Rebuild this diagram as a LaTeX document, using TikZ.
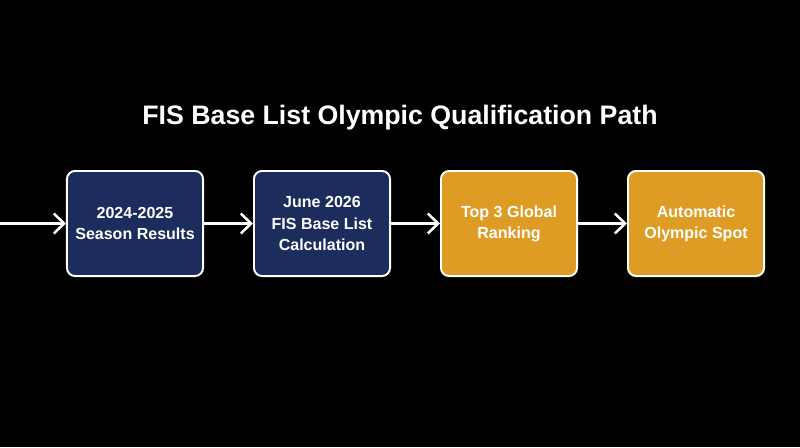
\documentclass[tikz,border=0pt]{standalone}
\usepackage{fontspec}
\setmainfont{Liberation Sans}
\usetikzlibrary{arrows.meta}

\definecolor{navybox}{RGB}{28,44,92}
\definecolor{goldbox}{RGB}{222,156,36}

\begin{document}
\begin{tikzpicture}[x=0.025cm,y=-0.025cm,
    stage/.style={draw=white,line width=1.4pt,rounded corners=0.2cm,minimum width=3.4cm,minimum height=2.625cm,
      inner sep=0pt,align=center,text=white,font=\fontsize{11.4}{15}\selectfont\bfseries},
    flow/.style={draw=white,line width=1.8pt,-{Straight Barb[length=2.6mm,width=5mm,line width=1.8pt]}}]

    \fill[black] (0,0) rectangle (800,447);
    \useasboundingbox (0,0) rectangle (800,447);

    \node[text=white,font=\fontsize{19}{23}\selectfont\bfseries] (title) at (400,118) {FIS Base List Olympic Qualification Path};

    \coordinate (start) at (0,223.5);
    \node[stage,fill=navybox] (results) at (135,223.5) {2024-2025\\Season Results};
    \node[stage,fill=navybox] (baselist) at (322,223.5) {June 2026\\FIS Base List\\Calculation};
    \node[stage,fill=goldbox] (ranking) at (509,223.5) {Top 3 Global\\Ranking};
    \node[stage,fill=goldbox] (spot) at (696,223.5) {Automatic\\Olympic Spot};

    \foreach \a/\b in {start/results,results/baselist,baselist/ranking,ranking/spot}
      \draw[flow] (\a) -- (\b);

\end{tikzpicture}
\end{document}
